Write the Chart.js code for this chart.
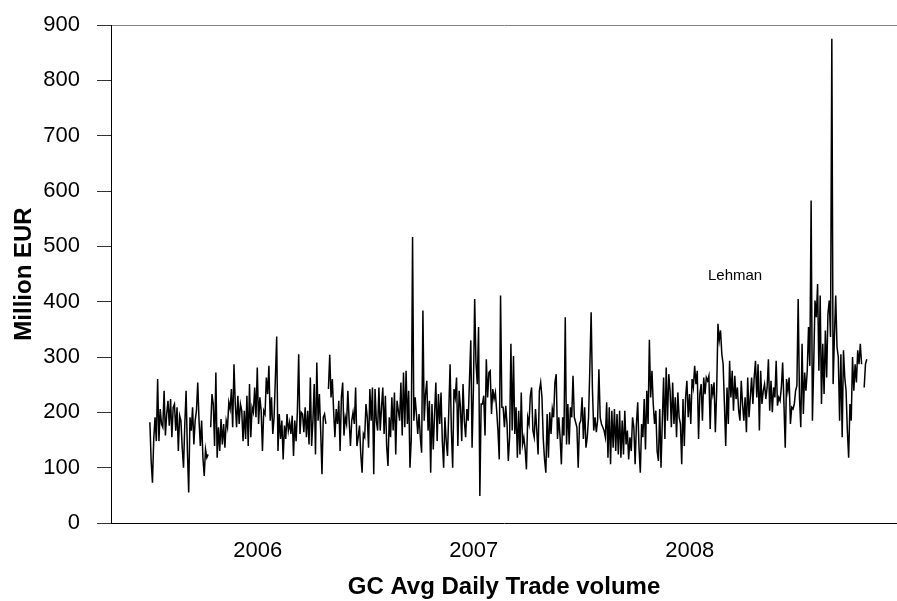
<!DOCTYPE html>
<html>
<head>
<meta charset="utf-8">
<title>GC Avg Daily Trade volume</title>
<script src="https://cdn.jsdelivr.net/npm/chart.js@4.4.1/dist/chart.umd.min.js"></script>
<style>
  body { margin: 0; background: #fff; }
</style>
</head>
<body>
<canvas id="volume-chart" width="897" height="601"></canvas>

<script>
// year labels on the time axis (placed at 1 January)
var yearTicks = [2006, 2007, 2008];

// first and last day of the series, as decimal years
var firstDay = 2005.5;
var lastDay = 2008.82;

// daily GC trade volume, million EUR (null = no trading reported)
var volume = [
  182,112,73,152,191,148,260,148,206,179,173,239,158,197,221,176,224,155,209,215,
  167,209,130,194,185,136,100,179,239,130,55,191,167,209,142,185,203,254,185,139,
  185,118,85,133,118,124,null,173,233,215,139,272,118,173,130,188,142,179,136,185,
  173,218,206,242,173,287,215,173,230,179,215,203,148,203,152,230,139,251,155,209,
  200,245,191,281,179,227,203,
  130,203,197,263,233,284,185,227,161,191,263,337,130,197,152,185,115,176,152,197,
  167,182,161,194,121,185,148,203,305,161,200,197,164,209,155,203,142,263,139,185,
  251,124,290,185,233,167,88,191,197,179,null,242,304,227,260,203,155,206,179,221,
  130,227,254,158,191,179,239,185,139,185,200,179,245,139,155,176,124,91,161,155,
  215,191,136,242,185,245,88,242,185,167,245,167,209,
  245,161,230,139,103,191,155,227,167,236,124,221,203,185,254,158,272,173,275,179,
  239,100,152,517,185,227,197,161,197,155,127,384,185,233,257,167,221,91,215,133,
  197,254,148,233,179,236,148,100,191,148,121,203,287,167,100,242,227,263,139,239,
  209,148,251,185,155,206,185,260,330,136,239,405,290,251,354,49,215,215,230,158,
  296,227,272,275,197,242,224,236,203,167,115,411,209,
  209,173,212,179,112,155,324,167,302,161,209,118,203,124,236,142,155,133,97,191,
  179,230,245,167,155,206,167,124,239,254,227,152,115,91,197,118,200,161,206,191,
  254,269,152,191,155,106,191,158,372,142,215,142,209,191,266,191,182,173,100,179,
  185,227,152,209,136,155,191,281,381,242,167,191,164,185,278,191,179,173,167,155,
  218,118,209,106,203,136,206,130,197,124,203,118,
  185,124,203,142,167,115,155,130,191,173,106,179,218,136,91,179,155,224,133,239,
  179,331,227,275,215,179,203,130,112,206,100,185,263,152,281,185,269,239,173,254,
  179,227,155,236,191,179,106,224,139,227,257,191,233,179,260,245,284,251,275,152,
  233,251,185,263,233,263,257,266,170,251,233,254,164,239,360,330,348,305,287,215,
  139,245,179,293,227,275,203,266,224,245,203,
  185,257,215,185,227,164,263,191,227,263,215,263,293,227,287,167,275,215,239,251,
  224,245,296,203,257,200,245,227,293,212,227,221,245,290,215,136,260,239,263,179,
  209,206,215,239,248,405,227,173,324,197,272,239,275,354,284,583,185,287,402,372,
  432,275,411,215,324,233,348,263,378,402,336,875,251,336,411,318,300,185,305,155,
  312,263,239,167,118,215,185,300,239,287,254,312,287,324,287,null,245,287,296
];

var eventLabel = 'Lehman';
var eventAt = { x: 2008.21, y: 447 };

var FONT = "'Liberation Sans', Arial, Helvetica, sans-serif";

// observations are evenly spaced between the first and last day
var step = (lastDay - firstDay) / (volume.length - 1);
var points = volume.map(function (v, i) {
  return { x: firstDay + i * step, y: v };
});

var eventText = {
  id: 'eventText',
  afterDatasetsDraw: function (chart) {
    var ctx = chart.ctx;
    var px = chart.scales.x.getPixelForValue(eventAt.x);
    var py = chart.scales.y.getPixelForValue(eventAt.y);
    ctx.save();
    ctx.font = '15px ' + FONT;
    ctx.fillStyle = '#000';
    ctx.textAlign = 'center';
    ctx.textBaseline = 'middle';
    ctx.fillText(eventLabel, px, py);
    ctx.restore();
  }
};

var config = {
  type: 'line',
  data: {
    datasets: [{
      data: points,
      borderColor: '#000',
      borderWidth: 1.5,
      pointRadius: 0,
      tension: 0,
      spanGaps: false
    }]
  },
  options: {
    responsive: false,
    animation: false,
    devicePixelRatio: 1,
    layout: { padding: { top: 25, right: 0, left: 0, bottom: 0 } },
    plugins: {
      legend: { display: false },
      tooltip: { enabled: false }
    },
    scales: {
      x: {
        type: 'linear',
        min: 2005.32,
        max: 2008.96,
        afterBuildTicks: function (scale) {
          scale.ticks = yearTicks.map(function (y) { return { value: y }; });
        },
        afterFit: function (scale) { scale.height = 78; },
        grid: { display: false },
        border: { display: true, color: '#000', width: 1 },
        ticks: {
          color: '#000',
          font: { family: FONT, size: 22 },
          padding: 7,
          maxRotation: 0,
          autoSkip: false,
          callback: function (v) { return String(v); }
        },
        title: {
          display: true,
          text: 'GC Avg Daily Trade volume',
          color: '#000',
          font: { family: FONT, size: 24, weight: 'bold', lineHeight: 1.1 },
          padding: { top: 0, bottom: 0 }
        }
      },
      y: {
        min: 0,
        max: 900,
        afterFit: function (scale) {
          scale.width = 111;
          // keep the 900 line near the top edge
          scale.paddingTop = 0;
          scale.paddingBottom = 0;
        },
        grid: {
          drawOnChartArea: true,
          color: function (c) {
            return c.tick && c.tick.value === 900 ? '#808080' : 'rgba(0,0,0,0)';
          },
          tickColor: '#333',
          tickLength: 14
        },
        border: { display: true, color: '#000', width: 1 },
        ticks: {
          stepSize: 100,
          color: '#000',
          font: { family: FONT, size: 22 },
          padding: 17
        },
        title: {
          display: true,
          text: 'Million EUR',
          color: '#000',
          font: { family: FONT, size: 24, weight: 'bold', lineHeight: 1.2 },
          padding: { top: 10, bottom: 0 }
        }
      }
    }
  },
  plugins: [eventText]
};

window.onload = function () {
  var ctx = document.getElementById('volume-chart').getContext('2d');
  window.volumeChart = new Chart(ctx, config);
};
</script>
</body>
</html>
